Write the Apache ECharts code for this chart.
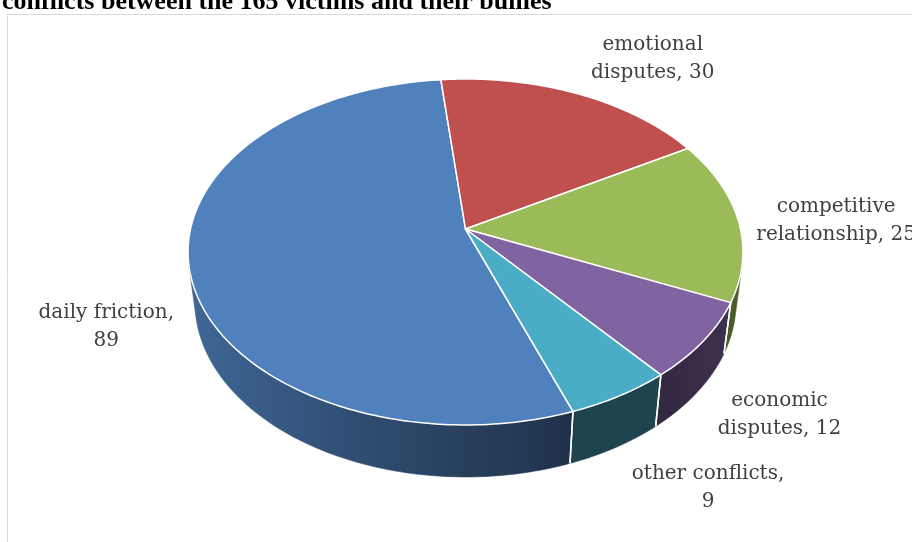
<!DOCTYPE html>
<html>
<head>
<meta charset="utf-8">
<script src="https://cdn.jsdelivr.net/npm/echarts@6/dist/echarts.min.js"></script>
<style>
  html, body { margin: 0; padding: 0; background: #ffffff; }
  #chart { width: 912px; height: 542px; }
</style>
</head>
<body>
<div id="chart"></div>
<script>
// Sources of conflict reported by the victims
const categories = ['daily friction', 'emotional disputes', 'competitive relationship', 'economic disputes', 'other conflicts'];
const counts = [89, 30, 25, 12, 9];
const titleText = 'conflicts between the 165 victims and their bullies';

// Slice colours (top faces); side walls are shaded from these
const sliceColors = ['#4F81BD', '#C0504D', '#9BBB59', '#8064A2', '#4BACC6'];
// Label placement: pixel offset of the label centre from the slice's rim midpoint
const labelOffsets = [[-83, 59], [76, -35], [98, 1], [76, 74], [88, 92]];
// Whether the value goes on its own line under the category
const valueOnOwnLine = [true, false, false, false, true];

// 3D view of the pie: camera elevation, distance and focal length (radius = 1)
const view = {
  cx: 465.5, cy: 229,
  focal: 1627, dist: 5.917,
  sinA: 0.618, cosA: 0.786,
  thickness: 0.237,
  startAngle: 160
};

const total = counts.reduce((a, b) => a + b, 0);
const sliceStart = [];
const sliceEnd = [];
(function () {
  let acc = view.startAngle;
  counts.forEach(function (v) {
    sliceStart.push(acc);
    acc += v / total * 360;
    sliceEnd.push(acc);
  });
})();

// project a point on the pie (angle clockwise from the far side, radius r, height h)
function project(deg, r, h) {
  const t = deg * Math.PI / 180;
  const s = Math.sin(t) * r, c = Math.cos(t) * r;
  const depth = view.dist + c * view.cosA - h * view.sinA;
  return [
    view.cx + view.focal * s / depth,
    view.cy - view.focal * (h * view.cosA + c * view.sinA) / depth
  ];
}

// front-facing part of the outer wall
const visLimit = Math.acos(-1 / (view.dist * view.cosA)) * 180 / Math.PI;
const visRanges = [[visLimit, 360 - visLimit], [visLimit + 360, 720 - visLimit]];

function arcPoints(a0, a1, h) {
  const pts = [];
  const n = Math.max(2, Math.ceil(Math.abs(a1 - a0) / 1));
  for (let i = 0; i <= n; i++) pts.push(project(a0 + (a1 - a0) * i / n, 1, h));
  return pts;
}

function shade(hex, k) {
  const n = parseInt(hex.slice(1), 16);
  const r = Math.round(((n >> 16) & 255) * k);
  const g = Math.round(((n >> 8) & 255) * k);
  const b = Math.round((n & 255) * k);
  return 'rgb(' + r + ',' + g + ',' + b + ')';
}

const leftX = project(270, 1, 0)[0] - 4;
const rightX = project(90, 1, 0)[0] + 4;
// wall lighting across the width of the pie (position, brightness)
const wallLight = [[0, 0.80], [0.33, 0.58], [0.69, 0.39], [0.85, 0.40], [1, 0.50]];

function renderSlice(params, api) {
  const i = params.dataIndex;
  const a0 = sliceStart[i], a1 = sliceEnd[i];
  const base = sliceColors[i];
  const children = [];
  const hBottom = -view.thickness;

  // outer wall
  const grad = new echarts.graphic.LinearGradient(leftX, 0, rightX, 0,
    wallLight.map(function (s) { return { offset: s[0], color: shade(base, s[1]) }; }), true);
  visRanges.forEach(function (rg) {
    const s0 = Math.max(a0, rg[0]), s1 = Math.min(a1, rg[1]);
    if (s1 > s0) {
      const pts = arcPoints(s0, s1, 0).concat(arcPoints(s1, s0, hBottom));
      children.push({ type: 'polygon', z2: 1, shape: { points: pts },
        style: { fill: grad, stroke: grad, lineWidth: 0.6 } });
    }
    [a0, a1].forEach(function (a) {
      if (a > rg[0] && a < rg[1]) {
        const p = project(a, 1, 0), q = project(a, 1, hBottom);
        children.push({ type: 'line', z2: 3, shape: { x1: p[0], y1: p[1], x2: q[0], y2: q[1] },
          style: { stroke: '#ffffff', lineWidth: 1.5 } });
      }
    });
  });

  // top face
  const top = [project(0, 0, 0)].concat(arcPoints(a0, a1, 0));
  children.push({ type: 'polygon', z2: 2, shape: { points: top },
    style: { fill: base, stroke: '#ffffff', lineWidth: 1.5, lineJoin: 'round' } });

  // data label
  const mid = project((a0 + a1) / 2, 1, 0);
  const off = labelOffsets[i];
  const name = categories[i];
  const val = api.value(0);
  let text;
  if (valueOnOwnLine[i]) {
    text = name + ',\n' + val;
  } else {
    const sp = name.indexOf(' ');
    text = name.slice(0, sp) + '\n' + name.slice(sp + 1) + ', ' + val;
  }
  children.push({ type: 'text', z2: 5, x: mid[0] + off[0], y: mid[1] + off[1],
    style: { text: text, fill: '#404040', font: '20px "DejaVu Serif"',
      align: 'center', verticalAlign: 'middle', lineHeight: 28 } });

  return { type: 'group', children: children };
}

const chart = echarts.init(document.getElementById('chart'), null, { renderer: 'canvas' });
chart.setOption({
  animation: false,
  backgroundColor: '#ffffff',
  title: {
    text: titleText, left: -3, top: -16, z: 10,
    textStyle: { fontFamily: 'Liberation Serif', fontWeight: 'bold', fontSize: 26, color: '#000000' }
  },
  graphic: [{
    type: 'rect', z: -1, silent: true,
    shape: { x: 7.5, y: 14.5, width: 1000, height: 600 },
    style: { fill: 'none', stroke: '#d9d9d9', lineWidth: 1 }
  }],
  series: [{
    type: 'custom',
    coordinateSystem: 'none',
    renderItem: renderSlice,
    data: counts.map(function (v, i) { return { name: categories[i], value: [v] }; })
  }]
});
</script>
</body>
</html>
